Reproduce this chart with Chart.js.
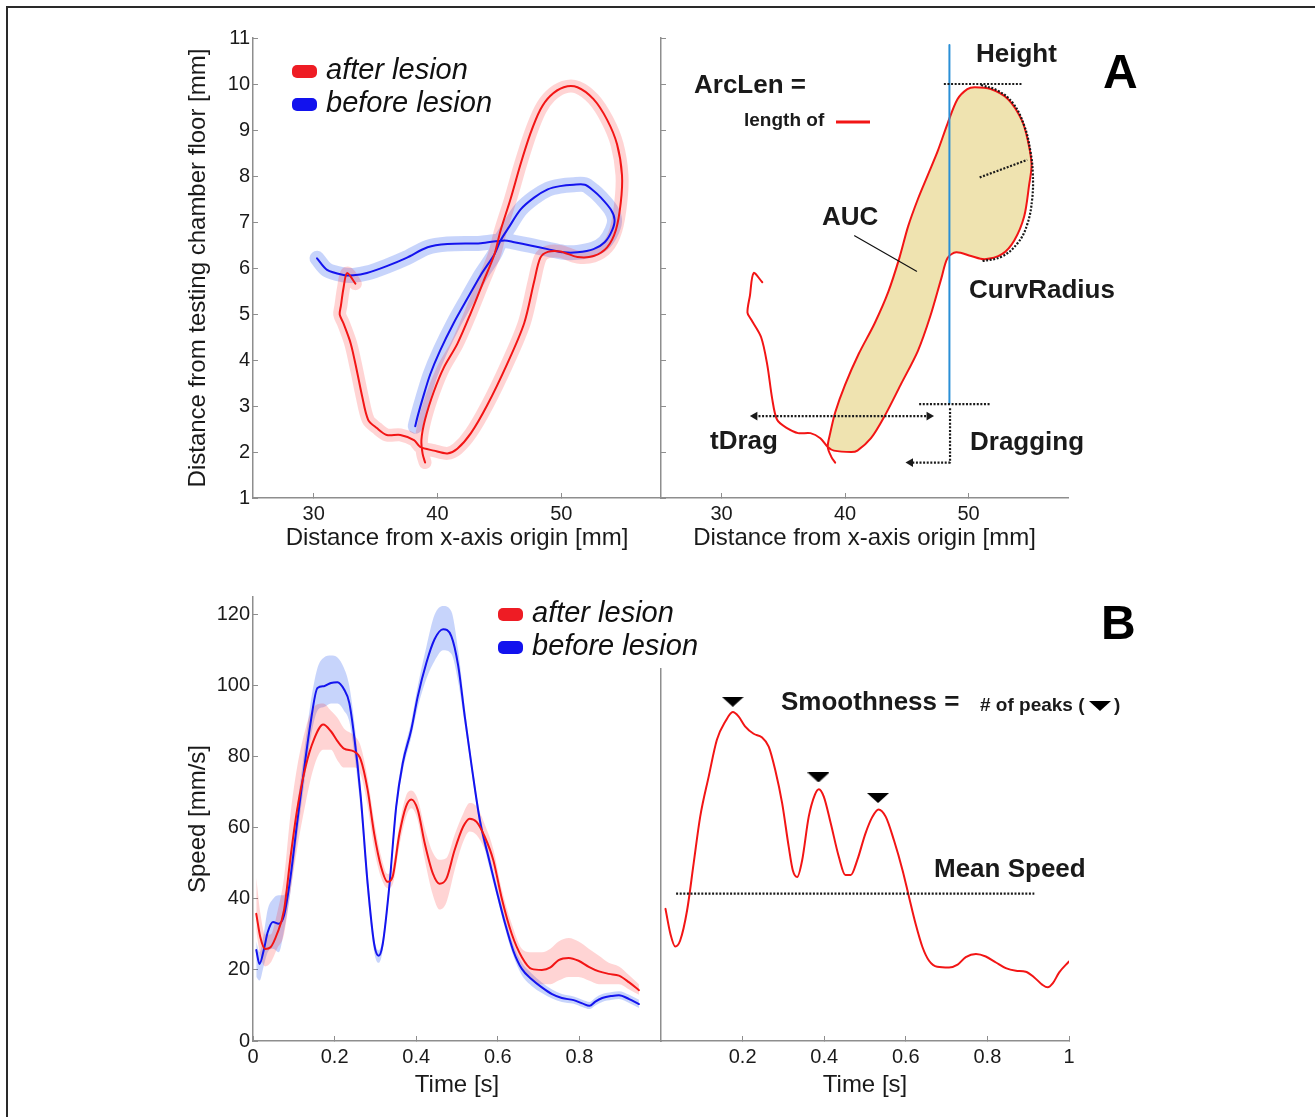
<!DOCTYPE html>
<html><head><meta charset="utf-8">
<script src="https://cdn.jsdelivr.net/npm/chart.js@4.4.1/dist/chart.umd.min.js"></script>
<style>
html,body{margin:0;padding:0;background:#fff;}
#wrap{position:relative;width:1315px;height:1117px;overflow:hidden;background:#fff;}
.layer{position:absolute;left:0;top:0;width:1315px;height:1117px;}
#frame{position:absolute;left:6px;top:6px;width:1400px;height:1200px;border-left:2px solid #2a2a2a;border-top:2px solid #2a2a2a;}
</style></head><body>
<div id="wrap">
<div id="frame"></div>
<div class="layer"><canvas id="cTL" width="1315" height="1117"></canvas></div>
<div class="layer"><canvas id="cTR" width="1315" height="1117"></canvas></div>
<div class="layer"><canvas id="cBR" width="1315" height="1117"></canvas></div>
<div class="layer"><canvas id="cBL" width="1315" height="1117"></canvas></div>
</div>
<script>
// ---------- DATA ----------
// Panel A (left): mean paw trajectories [mm]
const redX = [33.37,32.7,32.4,32.2,32.1,32.4,33.0,33.5,33.9,34.4,35.1,35.9,37.0,38.1,38.6,39.7,40.8,41.6,42.7,44.0,45.6,47.0,47.8,48.3,48.9,49.9,51.3,52.6,53.7,54.4,54.8,54.9,54.5,53.7,52.6,51.3,50.2,49.1,48.3,47.5,46.7,45.9,45.1,44.6,43.7,42.7,41.6,40.5,39.7,39.0,38.7,38.8,39.0];
const redY = [5.66,5.89,5.55,5.18,4.99,4.8,4.35,3.75,3.23,2.7,2.52,2.37,2.37,2.26,2.11,2.03,1.97,2.07,2.41,3.01,3.9,4.8,5.7,6.22,6.35,6.36,6.24,6.26,6.45,6.82,7.42,8.02,8.69,9.22,9.67,9.93,9.93,9.74,9.44,8.92,8.25,7.5,6.82,6.3,5.7,5.03,4.35,3.83,3.31,2.71,2.26,1.96,1.77];
const blueX = [30.27,31.08,32.4,33.2,34.3,35.9,37.5,39.2,40.8,43.5,45.4,46.2,47.5,48.9,50.2,51.3,52.6,53.5,54.1,54.3,54.0,53.2,52.6,51.9,51.0,49.9,48.9,47.8,46.7,45.8,45.1,44.6,43.5,42.4,41.3,40.2,39.4,38.8,38.4,38.2];
const blueY = [6.21,5.96,5.85,5.84,5.89,6.04,6.22,6.45,6.52,6.54,6.6,6.56,6.49,6.41,6.34,6.34,6.41,6.56,6.82,7.05,7.27,7.53,7.68,7.81,7.81,7.78,7.71,7.53,7.27,6.9,6.6,6.3,5.85,5.33,4.8,4.2,3.68,3.16,2.78,2.56];

// Panel A (right): single trajectory with parameters
const arcX = [33.3,32.6,32.3,32.1,32.4,33.2,33.7,34.1,34.5,35.3,36.2,37.2,38.0,38.6,39.1,40.5,41.0,42.1,43.2,44.5,45.9,46.9,47.8,48.3,49.0,50.2,51.3,52.7,53.7,54.5,54.9,55.1,54.8,54.3,53.2,51.8,50.5,49.9,49.1,48.3,47.5,46.7,45.9,45.1,44.4,43.5,42.4,41.1,40.0,39.2,38.8,38.6,38.9,39.2];
const arcY = [5.69,5.89,5.4,5.03,4.88,4.5,3.9,3.16,2.7,2.52,2.41,2.41,2.3,2.11,2.03,2.0,2.03,2.3,2.78,3.46,4.2,4.95,5.78,6.22,6.34,6.26,6.19,6.3,6.6,7.12,7.8,8.25,8.77,9.22,9.67,9.89,9.93,9.89,9.67,9.14,8.54,8.02,7.5,6.9,6.22,5.48,4.8,4.13,3.46,2.86,2.41,2.11,1.89,1.77];
const aucStart = 13, aucEnd = 51;
const curvX = [51.0,52.4,53.6,54.5,55.0,55.2,55.15,54.75,54.0,52.7,51.1];
const curvY = [9.98,9.85,9.58,9.1,8.55,8.05,7.5,6.95,6.55,6.25,6.15];
const radX = [50.9,54.75], radY = [7.97,8.35];
const heightX = [48.0,54.3], heightY = [10,10];
const vertX = [48.45,48.45], vertY = [3.05,10.85];
const dragBarX = [46.0,51.75], dragBarY = [3.04,3.04];
const dragArrowX = [48.5,48.5,45.3], dragArrowY = [2.95,1.77,1.77];
const tDragX = [32.7,46.8], tDragY = [2.78,2.78];
const aucPtrX = [40.77,45.79], aucPtrY = [6.70,5.93];

// Panel B (left): mean speed profiles [mm/s]
const tR = [0.008,0.018,0.03,0.043,0.059,0.076,0.092,0.108,0.129,0.149,0.172,0.191,0.207,0.223,0.248,0.264,0.281,0.297,0.314,0.33,0.342,0.359,0.375,0.388,0.404,0.421,0.441,0.457,0.474,0.494,0.515,0.531,0.548,0.568,0.589,0.609,0.634,0.659,0.683,0.708,0.729,0.749,0.774,0.798,0.823,0.848,0.872,0.897,0.922,0.946];
const meanR = [35.8,29.2,25.9,26.4,30.2,36.8,51.8,65,77.3,84.8,89.1,87.2,84.4,82.3,81.5,79.2,70.7,58.4,49,44.8,46.2,58.4,66,68,65,55.6,47.1,44.3,45.7,53.7,60.3,62.6,61.7,57.5,50.9,40.5,30.2,23.6,20.3,20,20.7,22.8,23.4,22.6,20.9,19.6,18.9,18.4,16.5,14.3];
const upR = [46,36,30,30,36,46,64,77,88,94,95,93,91,88,86,83,74,62,52,47,49,61,69,70.5,68,60,53,51,51.5,58,64,67,66,61,54,43,33,26,25,25,26,28,29,28,26,24,22,21,18.5,16];
const loR = [31,24,21,22,26,30,42,54,67,77,82,82,79,77,77,75,66,54,46,43,44,55,63,65.5,62,51,41,37,39,48,56,59,58,54,48,38,27.5,21,17,16,16,17,18,18,17,16,16,16,14.5,13];
const tB = [0.008,0.016,0.026,0.036,0.049,0.063,0.076,0.092,0.108,0.125,0.141,0.158,0.174,0.191,0.207,0.223,0.236,0.248,0.264,0.281,0.297,0.308,0.318,0.334,0.351,0.367,0.388,0.404,0.425,0.445,0.466,0.486,0.503,0.519,0.536,0.556,0.577,0.597,0.618,0.638,0.659,0.683,0.708,0.733,0.757,0.786,0.807,0.825,0.839,0.856,0.88,0.897,0.922,0.946];
const meanB = [25.6,21.7,25.4,30.6,33.5,33,35.3,46.2,61.3,76.3,89.5,99.4,99.9,100.8,101,99,95.2,85.8,68.8,44.3,27.3,24,27.3,43.4,66,78.2,87.7,97.1,106.5,113.1,115.9,114,105.6,91.4,77.3,62.2,51.8,42.4,33,25.4,20.3,17.4,15.1,13.2,12.1,11.5,10.6,9.9,11.1,12.1,12.7,12.9,11.8,10.4];
const upB = [28,25,30,37,40,41,41,51,66,81,95,105,108,108.5,108,105,100,90,72,47,29,25.5,29,45,68,80,90,100,111,120,122.5,121,110,94,79,64,53.5,44,34.5,27,22,19,16.5,14.5,13.2,12.5,11.6,11,12.2,13.2,13.8,14,13,11.6];
const loB = [18,17,21,25,26,25,31,42,57,72,85,93,94,95,95,93,90,81,65,41,25,22,25.5,41.5,64,76,85.5,94,102,107,110,109,101,89,75.5,60.5,50,41,31.5,24,18.5,15.5,13.5,12,11,10.5,9.6,9,10,11,11.6,11.8,10.7,9.3];

// Panel B (right): single speed profile
const tS = [0.011,0.023,0.035,0.047,0.064,0.080,0.096,0.117,0.137,0.158,0.176,0.19,0.206,0.227,0.247,0.264,0.28,0.297,0.313,0.323,0.334,0.346,0.362,0.377,0.387,0.399,0.416,0.436,0.452,0.465,0.481,0.501,0.518,0.533,0.551,0.571,0.592,0.608,0.624,0.641,0.657,0.677,0.706,0.727,0.747,0.772,0.796,0.821,0.845,0.870,0.894,0.915,0.935,0.948,0.960,0.976,1.0];
const speedS = [37.2,30.2,26.6,28.3,36.8,50,63.1,74.5,84.8,90,92.6,91.4,88.6,86.5,85.5,82.9,76.3,66.9,54.7,48.1,46.2,50.9,63.1,69.3,70.9,68.8,61.3,51.8,46.7,46.7,50.9,58.4,63.1,65.2,63.1,56.5,48.1,40.5,33,26.4,22.6,20.9,20.7,21.5,23.6,24.5,23.8,22.1,20.5,19.8,19.5,17.9,15.8,15.1,16.2,19.3,22.4];
const peaksT = [0.176,0.386,0.532], peaksY = [95.5,74.2,68.4];
const meanSpeedT = [0.037,0.915], meanSpeedY = [41.5,41.5];

// Tick values
const xTicksA = [30,40,50];
const yTicksA = [1,2,3,4,5,6,7,8,9,10,11];
const yTicksB = [0,20,40,60,80,100,120];
const tTicksL = [0,0.2,0.4,0.6,0.8];
const tTicksR = [0.2,0.4,0.6,0.8,1];

// ---------- STYLE ----------
const FONT = "'Liberation Sans', Arial, Helvetica, sans-serif";
Chart.defaults.font.family = FONT;
const RED = '#f21515', BLUE = '#1414ee', AX = '#8e8e8e', TXT = '#1a1a1a';
const BOLD = 'bold 26px ' + FONT;

function pts(xs, ys) { return xs.map((x, i) => ({x: x, y: ys[i]})); }

function mkScale(o) {
  return {
    type: 'linear', position: o.pos, min: o.min, max: o.max,
    afterBuildTicks: s => { s.ticks = o.ticks.map(v => ({value: v})); },
    afterFit: s => { if (o.pos === 'left') s.width = o.size; else s.height = o.size; },
    grid: {display: true, drawOnChartArea: false, drawTicks: true, tickLength: -5, color: AX, lineWidth: 1},
    border: {display: true, color: AX, width: 1.5},
    ticks: {display: o.labels, font: {family: FONT, size: 20}, color: TXT, padding: o.pos === 'left' ? 8 : 9, maxRotation: 0, autoSkip: false,
            callback: v => String(+Number(v).toFixed(2))},
    title: o.title ? {display: true, text: o.title, font: {family: FONT, size: 24, lineHeight: 1}, color: TXT, padding: 0} : {display: false}
  };
}
function baseOpts(padding, scales) {
  return {
    responsive: false, animation: false, events: [],
    layout: {padding: padding},
    plugins: {legend: {display: false}, tooltip: {enabled: false}},
    scales: scales,
    elements: {point: {radius: 0, hoverRadius: 0}, line: {borderCapStyle: 'round', borderJoinStyle: 'round'}}
  };
}
function txt(ctx, s, x, y, font, color) {
  ctx.save(); ctx.font = font; ctx.fillStyle = color || TXT; ctx.textAlign = 'left'; ctx.textBaseline = 'middle';
  ctx.fillText(s, x, y); ctx.restore();
}
function swatch(ctx, x, y, col) {
  ctx.save(); ctx.fillStyle = col; ctx.beginPath(); ctx.roundRect(x, y, 25, 13, 5); ctx.fill(); ctx.restore();
}
const tri = document.createElement('canvas'); tri.width = 22; tri.height = 10;
(function(){ const g = tri.getContext('2d'); g.fillStyle = '#000'; g.beginPath(); g.moveTo(0,0); g.lineTo(22,0); g.lineTo(11,10); g.closePath(); g.fill(); })();

const dotted = {showLine: true, borderColor: '#1a1a1a', borderWidth: 2.2, borderDash: [2, 1.6], borderCapStyle: 'butt', tension: 0};

// ---------- PANEL A LEFT ----------
const legendTL = {id: 'legendTL', afterDraw(c) {
  const x = c.ctx;
  swatch(x, 292, 65, '#ee1c24'); txt(x, 'after lesion', 326, 71, 'italic 29px ' + FONT, '#111');
  swatch(x, 292, 98, '#1212ee'); txt(x, 'before lesion', 326, 104, 'italic 29px ' + FONT, '#111');
}};
new Chart(document.getElementById('cTL'), {
  type: 'scatter',
  data: {datasets: [
    {label: 'after lesion', data: pts(redX, redY), showLine: true, borderColor: RED, borderWidth: 2, tension: 0.3},
    {label: 'before lesion', data: pts(blueX, blueY), showLine: true, borderColor: BLUE, borderWidth: 2, tension: 0.3},
    {label: 'after lesion band', data: pts(redX, redY), showLine: true, borderColor: 'rgba(255,0,0,0.17)', borderWidth: 13, tension: 0.3},
    {label: 'before lesion band', data: pts(blueX, blueY), showLine: true, borderColor: 'rgba(0,60,235,0.22)', borderWidth: 15, tension: 0.3}
  ]},
  options: baseOpts({left: 186, top: 38, right: 654, bottom: 567}, {
    x: mkScale({pos: 'bottom', min: 25.1, max: 58.05, ticks: xTicksA, size: 52, labels: true, title: 'Distance from x-axis origin [mm]'}),
    y: mkScale({pos: 'left', min: 1, max: 11, ticks: yTicksA, size: 67, labels: true, title: 'Distance from testing chamber floor [mm]'})
  }),
  plugins: [legendTL]
});

// ---------- PANEL A RIGHT ----------
const annoTR = {id: 'annoTR', afterDraw(c) {
  const x = c.ctx;
  txt(x, 'ArcLen =', 694, 86, BOLD);
  txt(x, 'length of', 744, 121, 'bold 19px ' + FONT);
  x.save(); x.strokeStyle = RED; x.lineWidth = 3; x.beginPath(); x.moveTo(836, 122); x.lineTo(870, 122); x.stroke(); x.restore();
  txt(x, 'Height', 976, 55, BOLD);
  txt(x, 'AUC', 822, 218, BOLD);
  txt(x, 'CurvRadius', 969, 291, BOLD);
  txt(x, 'tDrag', 710, 442, BOLD);
  txt(x, 'Dragging', 970, 443, BOLD);
  txt(x, 'A', 1103, 75, 'bold 48px ' + FONT, '#000');
}};
new Chart(document.getElementById('cTR'), {
  type: 'scatter',
  data: {datasets: [
    Object.assign({label: 'CurvRadius arc', data: pts(curvX, curvY)}, dotted, {tension: 0.4}),
    Object.assign({label: 'CurvRadius radius', data: pts(radX, radY)}, dotted),
    Object.assign({label: 'Height', data: pts(heightX, heightY)}, dotted),
    Object.assign({label: 'Dragging bar', data: pts(dragBarX, dragBarY)}, dotted),
    Object.assign({label: 'Dragging', data: pts(dragArrowX, dragArrowY), pointRadius: [0, 0, 5], pointStyle: 'triangle', pointRotation: [0, 0, 270], pointBackgroundColor: '#1a1a1a', pointBorderWidth: 0}, dotted),
    Object.assign({label: 'tDrag', data: pts(tDragX, tDragY), pointRadius: [5, 5], pointStyle: 'triangle', pointRotation: [270, 90], pointBackgroundColor: '#1a1a1a', pointBorderWidth: 0}, dotted),
    {label: 'AUC pointer', data: pts(aucPtrX, aucPtrY), showLine: true, borderColor: '#111', borderWidth: 1.2, tension: 0},
    {label: 'Height reference', data: pts(vertX, vertY), showLine: true, borderColor: '#2a8fd6', borderWidth: 2, tension: 0},
    {label: 'trajectory', data: pts(arcX, arcY), showLine: true, borderColor: RED, borderWidth: 2, tension: 0.3},
    {label: 'AUC', data: pts(arcX.slice(aucStart, aucEnd + 1), arcY.slice(aucStart, aucEnd + 1)), showLine: true, borderColor: 'rgba(0,0,0,0)', borderWidth: 0, backgroundColor: '#efe3b0', fill: 'shape', tension: 0.3}
  ]},
  options: baseOpts({left: 651, top: 38, right: 247, bottom: 567}, {
    x: mkScale({pos: 'bottom', min: 25.1, max: 58.05, ticks: xTicksA, size: 52, labels: true, title: 'Distance from x-axis origin [mm]'}),
    y: mkScale({pos: 'left', min: 1, max: 11, ticks: yTicksA, size: 10, labels: false})
  }),
  plugins: [annoTR]
});

// ---------- PANEL B RIGHT ----------
const annoBR = {id: 'annoBR', afterDraw(c) {
  const x = c.ctx;
  txt(x, 'Smoothness =', 781, 703, BOLD);
  txt(x, '# of peaks (', 980, 706, 'bold 19px ' + FONT);
  x.drawImage(tri, 1089, 701);
  txt(x, ')', 1114, 706, 'bold 19px ' + FONT);
  txt(x, 'Mean Speed', 934, 870, BOLD);
  txt(x, 'B', 1101, 626, 'bold 48px ' + FONT, '#000');
}};
new Chart(document.getElementById('cBR'), {
  type: 'scatter',
  data: {datasets: [
    {label: 'peaks', data: pts(peaksT, peaksY), showLine: false, pointStyle: tri, pointRadius: 6},
    Object.assign({label: 'Mean Speed', data: pts(meanSpeedT, meanSpeedY)}, dotted),
    {label: 'speed', data: pts(tS, speedS), showLine: true, borderColor: RED, borderWidth: 2, cubicInterpolationMode: 'monotone'}
  ]},
  options: baseOpts({left: 651, top: 597, right: 246, bottom: 20}, {
    x: mkScale({pos: 'bottom', min: 0, max: 1, ticks: tTicksR, size: 56, labels: true, title: 'Time [s]'}),
    y: mkScale({pos: 'left', min: 0, max: 125, ticks: [], size: 10, labels: false})
  }),
  plugins: [annoBR]
});

// ---------- PANEL B LEFT ----------
const legendBL = {id: 'legendBL', afterDraw(c) {
  const x = c.ctx;
  x.save(); x.fillStyle = '#fff'; x.fillRect(488, 588, 226, 80); x.restore();
  swatch(x, 498, 608, '#ee1c24'); txt(x, 'after lesion', 532, 614, 'italic 29px ' + FONT, '#111');
  swatch(x, 498, 641, '#1212ee'); txt(x, 'before lesion', 532, 647, 'italic 29px ' + FONT, '#111');
}};
new Chart(document.getElementById('cBL'), {
  type: 'scatter',
  data: {datasets: [
    {label: 'after lesion', data: pts(tR, meanR), showLine: true, borderColor: RED, borderWidth: 2, cubicInterpolationMode: 'monotone'},
    {label: 'before lesion', data: pts(tB, meanB), showLine: true, borderColor: BLUE, borderWidth: 2, cubicInterpolationMode: 'monotone'},
    {label: 'after upper', data: pts(tR, upR), showLine: true, borderColor: 'rgba(0,0,0,0)', backgroundColor: 'rgba(255,0,0,0.17)', fill: '+1', cubicInterpolationMode: 'monotone'},
    {label: 'after lower', data: pts(tR, loR), showLine: true, borderColor: 'rgba(0,0,0,0)', cubicInterpolationMode: 'monotone'},
    {label: 'before upper', data: pts(tB, upB), showLine: true, borderColor: 'rgba(0,0,0,0)', backgroundColor: 'rgba(0,60,235,0.22)', fill: '+1', cubicInterpolationMode: 'monotone'},
    {label: 'before lower', data: pts(tB, loB), showLine: true, borderColor: 'rgba(0,0,0,0)', cubicInterpolationMode: 'monotone'}
  ]},
  options: baseOpts({left: 186, top: 597, right: 654, bottom: 20}, {
    x: mkScale({pos: 'bottom', min: 0, max: 1, ticks: tTicksL, size: 56, labels: true, title: 'Time [s]'}),
    y: mkScale({pos: 'left', min: 0, max: 125, ticks: yTicksB, size: 67, labels: true, title: 'Speed [mm/s]'})
  }),
  plugins: [legendBL]
});
</script>
</body></html>
